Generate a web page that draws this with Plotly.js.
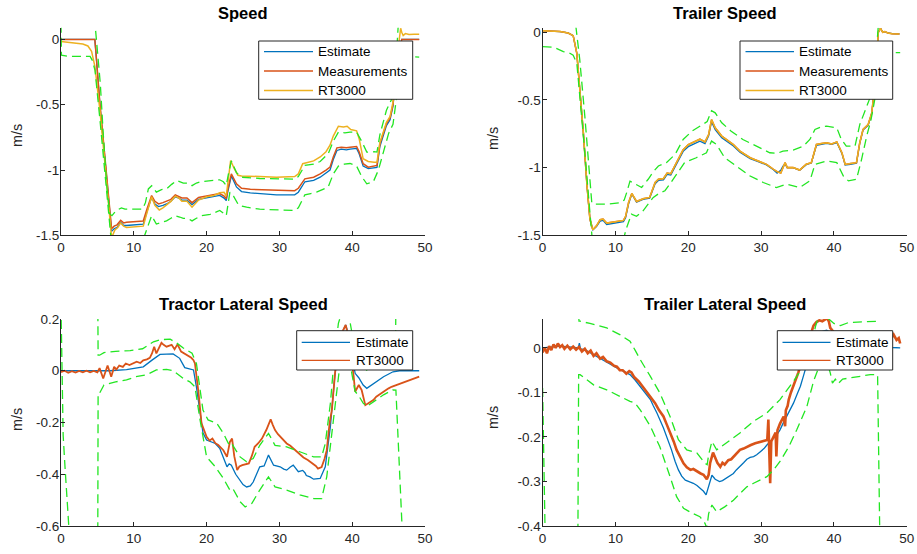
<!DOCTYPE html>
<html>
<head>
<meta charset="utf-8">
<script src="https://cdn.plot.ly/plotly-3.0.1.min.js"></script>
<style>
  html, body { margin: 0; padding: 0; background: #fff; }
  #chart { width: 917px; height: 554px; }
</style>
</head>
<body>
<div id="chart"></div>
<script>
// ---------- Speed (tractor) ----------
const spdT = [0, 4.65, 4.8, 5.36, 6.2, 6.95, 7.3, 7.7, 8.2, 8.6, 9.0, 10.0, 11.3, 11.8, 12.45, 12.9, 13.4, 14.0, 14.5, 15.1, 15.7, 16.2, 16.6, 17.3, 18.0, 18.9, 20.0, 21.0, 21.8, 22.4, 22.7, 22.9, 23.4, 24.1, 24.8, 26.0, 27.3, 29.6, 32.1, 32.6, 33.5, 34.7, 35.6, 36.4, 36.95, 37.4, 37.9, 38.5, 39.2, 39.7, 40.6, 40.95, 41.5, 42.2, 43.0, 43.4, 43.8, 44.7, 45.2, 45.6, 46.2, 46.8, 49.2];
const spdMeas = [0, 0, -0.1, -0.5, -1.0, -1.45, -1.43, -1.42, -1.385, -1.405, -1.40, -1.395, -1.39, -1.30, -1.196, -1.24, -1.26, -1.25, -1.24, -1.225, -1.19, -1.20, -1.214, -1.214, -1.25, -1.21, -1.20, -1.19, -1.18, -1.20, -1.22, -1.15, -1.03, -1.106, -1.14, -1.148, -1.15, -1.158, -1.158, -1.14, -1.068, -1.055, -1.03, -1.0, -0.978, -0.90, -0.83, -0.825, -0.83, -0.825, -0.82, -0.86, -0.952, -0.978, -0.972, -0.965, -0.80, -0.645, -0.6, -0.5, -0.15, 0, 0];
const spdEst = [0, 0, -0.1, -0.51, -1.01, -1.47, -1.45, -1.44, -1.40, -1.425, -1.425, -1.42, -1.415, -1.32, -1.21, -1.26, -1.28, -1.27, -1.26, -1.24, -1.205, -1.215, -1.23, -1.23, -1.265, -1.225, -1.215, -1.205, -1.195, -1.215, -1.235, -1.17, -1.045, -1.13, -1.165, -1.175, -1.18, -1.19, -1.19, -1.17, -1.09, -1.08, -1.055, -1.02, -1.0, -0.92, -0.85, -0.84, -0.845, -0.84, -0.835, -0.875, -0.97, -0.99, -0.985, -0.98, -0.82, -0.66, -0.615, -0.51, -0.16, 0, 0];
const spdRtT = [0, 1.0, 2.0, 3.0, 3.7, 4.2, 4.67, 5.36, 6.2, 6.95, 7.4, 7.8, 8.2, 8.6, 9.0, 10.0, 11.3, 11.8, 12.45, 12.9, 13.5, 14.0, 14.5, 15.1, 15.7, 16.2, 16.6, 17.3, 18.0, 18.9, 20.0, 21.0, 21.8, 22.4, 22.7, 22.9, 23.3, 23.8, 24.3, 24.8, 27.3, 29.6, 32.1, 32.6, 33.2, 34.7, 35.6, 36.4, 36.95, 37.4, 38.1, 38.8, 39.3, 39.8, 40.6, 40.95, 41.5, 42.2, 43.0, 43.4, 43.8, 44.7, 45.2, 45.6, 46.2, 46.5, 46.65, 46.8, 47.0, 47.3, 47.8, 48.5, 49.2];
const spdRt = [-0.015, -0.02, -0.025, -0.035, -0.05, -0.09, -0.21, -0.55, -1.05, -1.52, -1.46, -1.44, -1.405, -1.43, -1.44, -1.435, -1.43, -1.33, -1.205, -1.27, -1.306, -1.29, -1.27, -1.24, -1.2, -1.215, -1.24, -1.24, -1.285, -1.23, -1.205, -1.195, -1.175, -1.17, -1.2, -1.1, -0.927, -0.99, -1.04, -1.045, -1.05, -1.055, -1.05, -1.03, -0.952, -0.93, -0.9, -0.86, -0.81, -0.74, -0.665, -0.67, -0.665, -0.69, -0.7, -0.76, -0.914, -0.935, -0.94, -0.94, -0.79, -0.635, -0.59, -0.48, -0.12, 0.05, 0.086, 0.055, 0.03, 0.045, 0.038, 0.04, 0.04];
const spdUpT = [0, 4.6, 4.72, 5.4, 5.8, 6.3, 6.7, 7.0, 7.6, 8.3, 8.8, 9.6, 11.2, 11.6, 12.0, 12.45, 13.1, 13.8, 14.5, 15.2, 15.9, 16.8, 17.4, 18.0, 18.6, 19.2, 20.5, 21.8, 22.3, 22.7, 23.0, 23.4, 24.1, 24.8, 27.3, 29.6, 32.1, 32.6, 33.5, 34.7, 35.6, 36.7, 37.4, 38.1, 39.0, 39.7, 40.6, 41.3, 42.0, 43.0, 43.4, 43.8, 44.7, 45.4, 45.9, 46.3, 46.5, 49.2];
const spdUp = [0.13, 0.13, 0.09, -0.337, -0.72, -1.13, -1.337, -1.35, -1.31, -1.29, -1.30, -1.30, -1.30, -1.25, -1.145, -1.12, -1.17, -1.15, -1.145, -1.11, -1.08, -1.10, -1.10, -1.12, -1.10, -1.09, -1.085, -1.075, -1.09, -1.12, -1.03, -0.93, -1.02, -1.055, -1.065, -1.07, -1.07, -1.05, -0.965, -0.955, -0.935, -0.875, -0.78, -0.71, -0.715, -0.71, -0.71, -0.78, -0.863, -0.86, -0.863, -0.73, -0.542, -0.46, -0.28, 0.09, 0.13, 0.13];
const spdLoT = [0, 0.06, 1.0, 4.0, 4.3, 4.67, 5.36, 6.0, 6.7, 7.0, 11.2, 11.5, 12.0, 12.45, 13.1, 13.8, 14.5, 15.1, 15.7, 16.3, 16.8, 17.4, 18.0, 18.6, 19.2, 20.5, 21.8, 22.3, 22.7, 23.2, 23.7, 24.4, 25.5, 27.3, 29.6, 32.1, 32.6, 33.5, 34.3, 35.1, 35.9, 36.7, 37.4, 38.1, 38.9, 39.7, 40.6, 41.3, 42.0, 42.9, 43.6, 44.3, 45.0, 45.6, 46.2, 46.8, 47.2, 49.2];
const spdLo = [0.12, -0.12, -0.13, -0.13, -0.16, -0.235, -0.62, -1.0, -1.39, -1.6, -1.6, -1.5, -1.42, -1.35, -1.414, -1.40, -1.39, -1.37, -1.35, -1.36, -1.37, -1.37, -1.39, -1.37, -1.35, -1.34, -1.31, -1.33, -1.35, -1.17, -1.2, -1.27, -1.285, -1.30, -1.305, -1.31, -1.29, -1.19, -1.18, -1.17, -1.15, -1.13, -1.03, -0.97, -0.955, -0.95, -0.97, -1.05, -1.106, -1.09, -1.0, -0.85, -0.72, -0.65, -0.4, -0.15, -0.13, -0.135];

// ---------- Trailer speed ----------
const trT = [0, 1.0, 2.4, 3.5, 4.2, 4.7, 5.1, 5.6, 6.1, 6.5, 6.9, 7.4, 7.9, 8.3, 8.8, 9.5, 10.2, 11.1, 11.4, 11.8, 12.25, 12.9, 13.8, 14.7, 15.45, 15.9, 16.6, 17.1, 17.6, 18.4, 19.3, 20.0, 21.0, 21.6, 22.3, 22.8, 23.2, 23.7, 24.6, 25.5, 26.2, 27.1, 28.5, 29.6, 30.75, 31.7, 32.2, 32.7, 33.0, 33.3, 33.6, 34.4, 35.3, 36.2, 36.9, 37.6, 38.3, 39.0, 39.7, 40.4, 41.1, 41.55, 42.3, 43.1, 43.55, 44.0, 44.7, 45.2, 45.6, 46.1, 46.4, 46.7, 47.0, 47.4, 48.0, 49.0];
const trRt = [0.012, 0.01, 0.005, -0.005, -0.025, -0.155, -0.4, -0.743, -1.135, -1.38, -1.46, -1.43, -1.385, -1.38, -1.41, -1.405, -1.40, -1.39, -1.36, -1.26, -1.191, -1.25, -1.23, -1.22, -1.11, -1.086, -1.08, -1.04, -1.045, -0.963, -0.867, -0.83, -0.806, -0.79, -0.81, -0.755, -0.645, -0.706, -0.767, -0.804, -0.83, -0.878, -0.927, -0.951, -0.976, -1.012, -1.03, -1.04, -1.0, -0.963, -1.0, -0.999, -1.018, -0.975, -0.963, -0.829, -0.822, -0.816, -0.825, -0.81, -0.89, -0.976, -0.97, -0.963, -0.816, -0.718, -0.682, -0.596, -0.4, 0.0, 0.03, 0.0, 0.005, -0.005, -0.01, -0.012];
const trMeas = [0.012, 0.01, 0.005, -0.005, -0.025, -0.155, -0.4, -0.743, -1.135, -1.38, -1.46, -1.43, -1.385, -1.38, -1.41, -1.405, -1.40, -1.39, -1.36, -1.26, -1.191, -1.25, -1.23, -1.22, -1.11, -1.086, -1.08, -1.04, -1.045, -0.963, -0.867, -0.83, -0.806, -0.79, -0.81, -0.755, -0.645, -0.706, -0.767, -0.804, -0.83, -0.878, -0.927, -0.951, -0.976, -1.012, -1.03, -1.04, -1.0, -0.963, -1.0, -0.999, -1.018, -0.975, -0.963, -0.829, -0.822, -0.816, -0.825, -0.81, -0.89, -0.976, -0.97, -0.963, -0.816, -0.718, -0.682, -0.596, -0.4, 0.0, 0.03, 0.0, 0.005, -0.005, -0.01, -0.012];
const trEst = [0.012, 0.01, 0.005, -0.005, -0.025, -0.155, -0.4, -0.743, -1.135, -1.38, -1.46, -1.435, -1.395, -1.39, -1.42, -1.415, -1.41, -1.40, -1.37, -1.27, -1.195, -1.255, -1.235, -1.225, -1.12, -1.095, -1.09, -1.05, -1.055, -0.975, -0.88, -0.845, -0.822, -0.805, -0.822, -0.765, -0.66, -0.72, -0.78, -0.815, -0.84, -0.886, -0.933, -0.956, -0.98, -1.015, -1.04, -1.02, -0.99, -0.975, -1.0, -1.0, -1.02, -0.978, -0.966, -0.835, -0.826, -0.82, -0.828, -0.815, -0.895, -0.98, -0.975, -0.968, -0.82, -0.722, -0.688, -0.6, -0.4, 0.0, 0.03, 0.0, 0.005, -0.005, -0.01, -0.012];
const trUpT = [0, 4.4, 4.6, 5.1, 5.8, 6.3, 6.75, 7.0, 8.8, 10.6, 11.2, 11.55, 12.0, 12.7, 13.6, 14.5, 15.2, 15.9, 17.0, 18.2, 19.3, 20.5, 21.6, 22.6, 23.2, 23.7, 24.6, 25.9, 27.5, 29.4, 31.2, 32.2, 33.0, 34.4, 35.8, 36.7, 37.4, 38.2, 39.0, 40.4, 41.0, 41.7, 42.9, 43.55, 44.5, 45.2, 45.6, 46.0, 46.2, 49.1];
const trUp = [0.12, 0.12, 0.03, -0.2, -0.62, -0.99, -1.257, -1.27, -1.27, -1.26, -1.24, -1.184, -1.10, -1.12, -1.147, -1.086, -1.03, -0.988, -0.963, -0.902, -0.792, -0.731, -0.694, -0.66, -0.579, -0.595, -0.669, -0.731, -0.792, -0.84, -0.89, -0.895, -0.878, -0.87, -0.841, -0.792, -0.718, -0.70, -0.694, -0.706, -0.79, -0.841, -0.841, -0.682, -0.547, -0.45, -0.3, 0.0, 0.12, 0.12];
const trLoT = [0, 1.5, 2.85, 3.6, 4.2, 4.7, 5.4, 5.95, 6.5, 6.85, 11.0, 11.5, 12.2, 12.9, 13.8, 15.2, 16.0, 16.8, 17.5, 18.2, 19.5, 21.1, 22.5, 23.2, 23.9, 25.0, 26.6, 28.5, 30.3, 32.1, 33.5, 35.3, 36.7, 37.4, 39.0, 40.4, 41.3, 42.0, 43.1, 43.8, 44.5, 45.1, 45.6, 46.0, 46.4, 49.1];
const trLo = [-0.106, -0.11, -0.143, -0.15, -0.17, -0.228, -0.645, -0.99, -1.33, -1.55, -1.55, -1.45, -1.343, -1.36, -1.319, -1.22, -1.19, -1.171, -1.12, -1.062, -0.963, -0.927, -0.89, -0.804, -0.83, -0.927, -0.988, -1.062, -1.11, -1.147, -1.122, -1.147, -1.098, -0.976, -0.951, -0.963, -1.062, -1.098, -1.086, -0.939, -0.768, -0.645, -0.5, -0.3, -0.15, -0.15];

// ---------- Tractor lateral speed ----------
const latEstT = [0, 6.7, 9.0, 11.3, 12.5, 13.6, 15.4, 16.3, 17.0, 17.5, 18.2, 18.6, 19.1, 19.5, 20.0, 21.2, 21.8, 22.3, 22.8, 23.1, 23.4, 24.0, 24.4, 25.0, 25.5, 26.0, 26.4, 27.0, 27.3, 27.9, 28.5, 29.2, 30.1, 30.6, 31.0, 31.5, 31.9, 32.6, 33.2, 33.5, 33.7, 34.2, 34.7, 35.6, 36.3, 37.0, 37.6, 38.3, 39.1, 39.5, 39.9, 40.4, 40.9, 41.5, 42.0, 42.9, 44.3, 45.6, 46.5, 49.2];
const latEst = [0, 0, 0.004, 0.015, 0.041, 0.063, 0.065, 0.048, 0.012, 0.008, 0.003, -0.062, -0.165, -0.24, -0.268, -0.281, -0.30, -0.333, -0.371, -0.36, -0.365, -0.40, -0.416, -0.44, -0.449, -0.445, -0.43, -0.39, -0.371, -0.368, -0.326, -0.365, -0.371, -0.38, -0.384, -0.372, -0.365, -0.39, -0.385, -0.394, -0.405, -0.41, -0.419, -0.416, -0.371, -0.216, -0.023, 0.13, 0.177, 0.14, 0.067, -0.01, -0.027, -0.055, -0.068, -0.049, -0.023, -0.004, 0, 0];
const latRtT = [0, 0.5, 1.0, 1.5, 2.0, 2.5, 3.0, 3.5, 4.0, 4.5, 5.0, 5.3, 5.8, 6.1, 6.4, 6.9, 7.3, 7.6, 8.0, 8.5, 8.9, 9.4, 9.9, 10.4, 10.9, 11.3, 11.8, 12.2, 12.5, 12.8, 13.1, 13.5, 13.8, 14.1, 14.5, 14.9, 15.2, 15.6, 16.0, 16.5, 17.0, 17.5, 17.9, 18.2, 18.4, 18.9, 19.3, 20.0, 20.4, 20.8, 21.2, 21.6, 22.0, 22.3, 22.8, 23.2, 23.5, 23.8, 24.2, 24.5, 24.9, 25.4, 25.8, 26.2, 26.6, 27.1, 27.6, 28.2, 28.8, 29.1, 29.4, 29.8, 30.1, 30.6, 31.0, 31.5, 31.9, 32.4, 32.8, 33.3, 33.9, 34.6, 35.0, 35.3, 35.8, 36.2, 36.5, 36.9, 37.2, 37.8, 38.3, 39.1, 39.6, 40.2, 40.4, 40.9, 41.3, 41.8, 42.2, 42.5, 42.9, 43.3, 43.6, 44.0, 44.5, 45.0, 45.4, 46.1, 46.5, 47.0, 47.6, 48.0, 48.4, 48.8, 49.2];
const latRt = [-0.005, 0.0, -0.008, -0.002, -0.007, -0.001, -0.006, 0.0, -0.006, -0.001, -0.006, 0.01, -0.03, 0.0, 0.02, -0.023, 0.015, 0.005, 0.02, 0.015, 0.028, 0.022, 0.03, 0.035, 0.03, 0.04, 0.044, 0.05, 0.067, 0.093, 0.067, 0.09, 0.108, 0.1, 0.093, 0.097, 0.1, 0.083, 0.102, 0.074, 0.065, 0.054, 0.05, 0.041, 0.028, -0.087, -0.203, -0.255, -0.27, -0.262, -0.28, -0.287, -0.3, -0.307, -0.333, -0.275, -0.262, -0.33, -0.384, -0.37, -0.365, -0.362, -0.358, -0.33, -0.294, -0.28, -0.262, -0.229, -0.188, -0.21, -0.229, -0.245, -0.255, -0.268, -0.281, -0.29, -0.3, -0.31, -0.32, -0.335, -0.345, -0.358, -0.368, -0.378, -0.372, -0.34, -0.307, -0.2, -0.152, 0.041, 0.13, 0.177, 0.117, -0.023, -0.081, -0.055, -0.075, -0.133, -0.126, -0.12, -0.113, -0.1, -0.094, -0.085, -0.075, -0.068, -0.062, -0.055, -0.05, -0.043, -0.038, -0.033, -0.03, -0.025, -0.023];
const latUpT = [0, 5.05, 5.1, 5.3, 5.9, 7.5, 9.5, 11.2, 12.7, 13.6, 15.0, 15.9, 16.8, 18.0, 18.6, 19.1, 19.5, 20.2, 21.4, 22.3, 23.0, 23.3, 23.7, 24.6, 25.5, 26.4, 27.3, 28.5, 29.4, 31.0, 32.8, 34.7, 35.8, 36.3, 37.0, 37.5, 38.1, 38.5, 39.3, 39.6, 40.2, 40.9, 41.5, 42.0, 42.9, 44.3, 45.6, 45.95, 46.0, 49.2];
const latUp = [0.3, 0.3, 0.06, 0.06, 0.07, 0.075, 0.078, 0.085, 0.112, 0.12, 0.122, 0.107, 0.088, 0.068, 0.028, -0.062, -0.152, -0.19, -0.203, -0.242, -0.281, -0.275, -0.294, -0.333, -0.352, -0.339, -0.288, -0.242, -0.288, -0.294, -0.313, -0.333, -0.333, -0.281, -0.126, 0.041, 0.183, 0.22, 0.25, 0.2, 0.11, 0.05, 0.015, 0.002, 0.02, 0.047, 0.066, 0.07, 0.3, 0.3];
const latLoT = [0, 0.15, 0.3, 0.55, 1.1, 1.3, 5.05, 5.1, 5.3, 5.9, 7.5, 9.0, 10.3, 11.8, 13.1, 14.5, 15.4, 15.9, 16.8, 17.7, 18.4, 19.1, 20.0, 21.2, 22.3, 23.2, 23.6, 24.6, 25.3, 26.2, 27.3, 28.5, 29.4, 31.0, 32.8, 34.7, 35.8, 36.5, 37.2, 37.9, 38.6, 39.1, 39.5, 39.9, 40.4, 40.9, 41.5, 42.0, 42.9, 44.3, 45.6, 46.0, 47.0, 49.2];
const latLo = [0.25, 0.0, -0.25, -0.37, -0.6, -0.7, -0.7, -0.087, -0.087, -0.055, -0.043, -0.035, -0.023, -0.015, 0.003, 0.005, 0.0, -0.01, -0.03, -0.043, -0.062, -0.19, -0.333, -0.371, -0.416, -0.461, -0.455, -0.506, -0.526, -0.513, -0.461, -0.41, -0.449, -0.461, -0.48, -0.494, -0.494, -0.41, -0.242, -0.062, 0.093, 0.107, 0.07, -0.003, -0.08, -0.097, -0.125, -0.138, -0.12, -0.093, -0.074, -0.075, -0.7, -0.7];

// ---------- Trailer lateral speed ----------
const tlatEstT = [0, 1.0, 2.4, 4.0, 4.9, 5.05, 5.2, 5.8, 7.0, 7.9, 9.0, 10.2, 11.1, 12.0, 12.7, 13.4, 14.1, 14.8, 15.2, 15.7, 16.6, 17.2, 17.7, 18.2, 18.65, 19.1, 19.6, 20.2, 20.7, 21.2, 21.6, 22.1, 22.45, 22.6, 23.0, 23.25, 23.7, 24.3, 24.7, 25.2, 25.7, 26.2, 26.6, 27.1, 27.6, 28.05, 28.5, 28.97, 29.4, 29.9, 30.4, 30.8, 31.2, 31.7, 32.2, 32.6, 33.0, 33.5, 34.0, 34.45, 35.0, 35.4, 35.8, 36.3, 36.8, 37.3, 38.0, 39.0, 40.0, 41.0, 42.0, 43.0, 44.0, 45.0, 46.0, 47.0, 48.0, 49.1];
const tlatEst = [0.0, 0.002, 0.004, 0.002, 0.0, 0.011, -0.002, -0.004, -0.015, -0.025, -0.035, -0.045, -0.052, -0.06, -0.072, -0.086, -0.1, -0.116, -0.13, -0.146, -0.18, -0.205, -0.229, -0.255, -0.274, -0.288, -0.297, -0.301, -0.304, -0.309, -0.315, -0.322, -0.33, -0.322, -0.297, -0.286, -0.295, -0.30, -0.298, -0.293, -0.288, -0.282, -0.274, -0.267, -0.258, -0.25, -0.246, -0.244, -0.24, -0.233, -0.226, -0.218, -0.212, -0.203, -0.194, -0.184, -0.17, -0.154, -0.14, -0.124, -0.102, -0.086, -0.064, -0.034, -0.005, 0.02, 0.035, 0.04, 0.03, 0.02, 0.015, 0.01, 0.008, 0.006, 0.004, 0.002, 0.001, 0.0];
const tlatRtT = [0, 0.3, 0.6, 0.9, 1.2, 1.5, 1.8, 2.1, 2.4, 2.7, 3.0, 3.4, 3.8, 4.2, 4.6, 5.0, 5.4, 5.8, 6.2, 6.6, 7.0, 7.4, 7.9, 8.3, 8.8, 9.3, 9.8, 10.2, 10.6, 11.0, 11.5, 11.9, 12.2, 12.6, 13.2, 13.7, 14.3, 14.9, 15.45, 16.0, 16.6, 17.0, 17.5, 18.0, 18.4, 18.9, 19.35, 19.8, 20.3, 20.7, 21.2, 21.7, 22.1, 22.55, 22.8, 23.0, 23.4, 23.7, 24.0, 24.4, 24.7, 25.0, 25.5, 25.9, 26.5, 27.1, 27.6, 28.05, 28.6, 29.2, 29.7, 30.1, 30.5, 30.85, 31.0, 31.1, 31.25, 31.4, 31.8, 32.0, 32.1, 32.25, 32.6, 33.1, 33.3, 33.4, 33.65, 33.8, 34.1, 34.45, 34.8, 35.1, 35.5, 35.8, 36.3, 36.8, 37.2, 37.6, 38.0, 38.4, 38.8, 39.0, 39.3, 39.5, 40.0, 41.0, 42.0, 43.0, 44.0, 45.0, 46.0, 47.0, 47.8, 48.2, 48.6, 48.9, 49.1];
const tlatRt = [-0.01, 0.0, -0.012, 0.004, -0.005, 0.008, 0.0, 0.01, 0.002, 0.006, -0.002, 0.005, -0.003, 0.003, -0.004, 0.002, -0.008, -0.002, -0.012, -0.006, -0.018, -0.012, -0.024, -0.02, -0.03, -0.033, -0.04, -0.042, -0.05, -0.05, -0.058, -0.052, -0.055, -0.066, -0.075, -0.086, -0.098, -0.11, -0.124, -0.14, -0.154, -0.17, -0.188, -0.21, -0.229, -0.245, -0.259, -0.268, -0.274, -0.272, -0.278, -0.282, -0.285, -0.295, -0.285, -0.259, -0.235, -0.245, -0.258, -0.267, -0.258, -0.262, -0.252, -0.25, -0.24, -0.229, -0.226, -0.222, -0.218, -0.214, -0.212, -0.21, -0.208, -0.207, -0.161, -0.21, -0.304, -0.21, -0.195, -0.19, -0.244, -0.185, -0.17, -0.154, -0.176, -0.14, -0.13, -0.116, -0.1, -0.086, -0.07, -0.056, -0.035, -0.019, 0.004, 0.03, 0.05, 0.058, 0.062, 0.06, 0.064, 0.068, 0.06, 0.045, 0.035, 0.032, 0.03, 0.025, 0.02, 0.025, 0.02, 0.022, 0.02, 0.03, 0.018, 0.022, 0.01];
const tlatUpT = [0, 4.9, 5.0, 5.15, 6.5, 8.8, 10.6, 12.0, 12.7, 13.4, 14.8, 16.1, 17.5, 18.65, 19.8, 21.2, 22.3, 22.6, 22.8, 23.25, 23.9, 25.2, 27.1, 28.95, 30.8, 32.6, 34.45, 35.8, 36.8, 37.5, 38.0, 38.8, 39.3, 40.0, 40.9, 42.0, 43.5, 45.4, 46.0, 46.1, 49.1];
const tlatUp = [0.09, 0.09, 0.06, 0.06, 0.055, 0.045, 0.03, 0.015, -0.005, -0.026, -0.064, -0.101, -0.154, -0.206, -0.229, -0.236, -0.259, -0.262, -0.24, -0.21, -0.229, -0.214, -0.191, -0.165, -0.146, -0.116, -0.075, -0.041, 0.0, 0.05, 0.075, 0.08, 0.065, 0.055, 0.05, 0.057, 0.058, 0.06, 0.06, 0.09, 0.09];
const tlatLoT = [0, 0.35, 4.85, 4.95, 5.15, 5.8, 7.0, 8.8, 10.6, 12.0, 12.7, 13.4, 14.8, 16.1, 17.5, 18.4, 19.35, 20.5, 21.6, 22.3, 22.55, 22.8, 23.25, 23.9, 25.0, 26.2, 27.1, 28.05, 28.97, 29.9, 30.8, 31.7, 32.6, 33.8, 34.9, 36.3, 37.2, 38.0, 38.6, 39.2, 39.5, 39.8, 40.2, 40.6, 41.2, 42.0, 43.0, 44.0, 45.0, 46.0, 46.3, 49.1];
const tlatLo = [-0.09, -0.42, -0.42, -0.06, -0.06, -0.068, -0.083, -0.094, -0.109, -0.12, -0.124, -0.139, -0.176, -0.222, -0.289, -0.334, -0.36, -0.371, -0.379, -0.394, -0.405, -0.372, -0.353, -0.368, -0.357, -0.342, -0.327, -0.312, -0.304, -0.297, -0.289, -0.274, -0.255, -0.222, -0.184, -0.131, -0.075, -0.04, -0.03, -0.04, -0.056, -0.079, -0.07, -0.08, -0.07, -0.068, -0.065, -0.063, -0.06, -0.06, -0.42, -0.42];

// ---------- Tick labels, titles, legend entries ----------
const xTickVals = [0, 10, 20, 30, 40, 50];
const xTickText = ['0', '10', '20', '30', '40', '50'];
const spdTickVals = [0, -0.5, -1, -1.5];
const spdTickText = ['0', '-0.5', '-1', '-1.5'];
const latTickVals = [0.2, 0, -0.2, -0.4, -0.6];
const latTickText = ['0.2', '0', '-0.2', '-0.4', '-0.6'];
const tlatTickVals = [0, -0.1, -0.2, -0.3, -0.4];
const tlatTickText = ['0', '-0.1', '-0.2', '-0.3', '-0.4'];
const panelTitles = ['Speed', 'Trailer Speed', 'Tractor Lateral Speed', 'Trailer Lateral Speed'];
const unitLabel = 'm/s';
const speedLegend = ['Estimate', 'Measurements', 'RT3000'];
const lateralLegend = ['Estimate', 'RT3000'];

const FONT = '"Liberation Sans", Arial, Helvetica, sans-serif';
const C_EST = '#0072BD', C_MEAS = '#D95319', C_RT = '#EDB120', C_BND = '#22e622';
const AX = '#262626';
const W = 917, H = 554;
const px = v => v / W;          // pixel column -> paper x
const py = v => 1 - v / H;      // pixel row -> paper y

function line(x, y, color, xa, ya, width) {
  return {
    type: 'scatter', mode: 'lines', x: x, y: y, xaxis: xa, yaxis: ya,
    showlegend: false, hoverinfo: 'skip',
    line: { color: color, width: width || 1.3 }
  };
}
function bound(x, y, xa, ya) {
  return {
    type: 'scatter', mode: 'lines', x: x, y: y, xaxis: xa, yaxis: ya,
    showlegend: false, hoverinfo: 'skip',
    line: { color: C_BND, width: 1.3, dash: '9px,5px' }
  };
}

const traces = [
  // Speed
  line(spdT, spdEst, C_EST, 'x', 'y'),
  line(spdT, spdMeas, C_MEAS, 'x', 'y', 1.5),
  line(spdRtT, spdRt, C_RT, 'x', 'y', 1.5),
  bound(spdUpT, spdUp, 'x', 'y'),
  bound(spdLoT, spdLo, 'x', 'y'),
  // Trailer speed
  line(trT, trEst, C_EST, 'x2', 'y2'),
  line(trT, trMeas, C_MEAS, 'x2', 'y2', 1.5),
  line(trT, trRt, C_RT, 'x2', 'y2', 1.5),
  bound(trUpT, trUp, 'x2', 'y2'),
  bound(trLoT, trLo, 'x2', 'y2'),
  // Tractor lateral speed
  line(latEstT, latEst, C_EST, 'x3', 'y3'),
  line(latRtT, latRt, C_MEAS, 'x3', 'y3', 1.8),
  bound(latUpT, latUp, 'x3', 'y3'),
  bound(latLoT, latLo, 'x3', 'y3'),
  // Trailer lateral speed
  line(tlatEstT, tlatEst, C_EST, 'x4', 'y4'),
  line(tlatRtT, tlatRt, C_MEAS, 'x4', 'y4', 2.6),
  bound(tlatUpT, tlatUp, 'x4', 'y4'),
  bound(tlatLoT, tlatLo, 'x4', 'y4')
];

function xAxis(domain, anchor) {
  return {
    domain: domain, anchor: anchor, range: [0, 50],
    tickmode: 'array', tickvals: xTickVals, ticktext: xTickText,
    ticks: 'inside', ticklen: 4, tickwidth: 1, tickcolor: AX,
    showline: true, linecolor: AX, linewidth: 1, mirror: false,
    showgrid: false, zeroline: false, fixedrange: true,
    tickfont: { family: FONT, size: 13.5, color: AX }
  };
}
function yAxis(domain, anchor, range, vals, text) {
  return {
    domain: domain, anchor: anchor, range: range,
    tickmode: 'array', tickvals: vals, ticktext: text,
    ticks: 'inside', ticklen: 4, tickwidth: 1, tickcolor: AX,
    showline: true, linecolor: AX, linewidth: 1, mirror: false,
    showgrid: false, zeroline: false, fixedrange: true,
    ticklabelstandoff: -2,
    tickfont: { family: FONT, size: 13.5, color: AX }
  };
}
function title(text, x, y) {
  return {
    text: text, x: x, y: y, xref: 'paper', yref: 'paper',
    xanchor: 'center', yanchor: 'middle', showarrow: false,
    font: { family: FONT, size: 16.5, color: '#000', weight: 'bold' }
  };
}
function unit(x, y) {
  return {
    text: unitLabel, x: x, y: y, xref: 'paper', yref: 'paper',
    xanchor: 'center', yanchor: 'middle', showarrow: false, textangle: -90,
    font: { family: FONT, size: 14.5, color: AX }
  };
}

// Boxed legend: frame, a line sample per entry and its label
const shapes = [];
const annotations = [];
function legendBox(box, lineX, textX, rowsY, labels, colors) {
  shapes.push({
    type: 'rect', xref: 'paper', yref: 'paper', layer: 'above',
    x0: px(box[0]), x1: px(box[1]), y0: py(box[2]), y1: py(box[3]),
    fillcolor: '#ffffff', line: { color: AX, width: 1 }
  });
  labels.forEach((lab, i) => {
    shapes.push({
      type: 'line', xref: 'paper', yref: 'paper', layer: 'above',
      x0: px(lineX[0]), x1: px(lineX[1]), y0: py(rowsY[i]), y1: py(rowsY[i]),
      line: { color: colors[i], width: 1.3 }
    });
    annotations.push({
      text: lab, x: px(textX), y: py(rowsY[i]), xref: 'paper', yref: 'paper',
      xanchor: 'left', yanchor: 'middle', showarrow: false,
      font: { family: FONT, size: 13.5, color: '#000' }
    });
  });
}
legendBox([258.7, 412.7, 41, 99.3], [264, 313], 315.5, [51.7, 71, 90.5], speedLegend, [C_EST, C_MEAS, C_RT]);
legendBox([740, 892.7, 41, 99.3], [745.5, 794], 797, [51.7, 71, 90.5], speedLegend, [C_EST, C_MEAS, C_RT]);
legendBox([296.7, 412.7, 330.7, 370], [301.7, 350], 353.5, [342.3, 360.3], lateralLegend, [C_EST, C_MEAS]);
legendBox([777.3, 892.7, 330.7, 370], [782.5, 830.5], 834, [342.3, 360.3], lateralLegend, [C_EST, C_MEAS]);

annotations.push(
  title(panelTitles[0], 0.265, py(13)),
  title(panelTitles[1], 0.7902, py(13)),
  title(panelTitles[2], 0.265, py(304)),
  title(panelTitles[3], 0.7902, py(304)),
  unit(px(17), py(136)),
  unit(px(493), py(138)),
  unit(px(17), py(420)),
  unit(px(493), py(417))
);

const XL = [0.0665, 0.4635], XR = [0.5917, 0.9888];
const YT = [0.5753, 0.95], YB = [0.0505, 0.4242];

const layout = {
  width: W, height: H,
  margin: { l: 0, r: 0, t: 0, b: 0 },
  paper_bgcolor: '#ffffff', plot_bgcolor: '#ffffff',
  font: { family: FONT, color: AX },
  showlegend: false,
  xaxis: xAxis(XL, 'y'),
  yaxis: yAxis(YT, 'x', [-1.5, 0.09], spdTickVals, spdTickText),
  xaxis2: xAxis(XR, 'y2'),
  yaxis2: yAxis(YT, 'x2', [-1.5, 0.034], spdTickVals, spdTickText),
  xaxis3: xAxis(XL, 'y3'),
  yaxis3: yAxis(YB, 'x3', [-0.6, 0.2], latTickVals, latTickText),
  xaxis4: xAxis(XR, 'y4'),
  yaxis4: yAxis(YB, 'x4', [-0.4, 0.065], tlatTickVals, tlatTickText),
  shapes: shapes,
  annotations: annotations
};

Plotly.newPlot('chart', traces, layout, { staticPlot: true, displayModeBar: false });
</script>
</body>
</html>
